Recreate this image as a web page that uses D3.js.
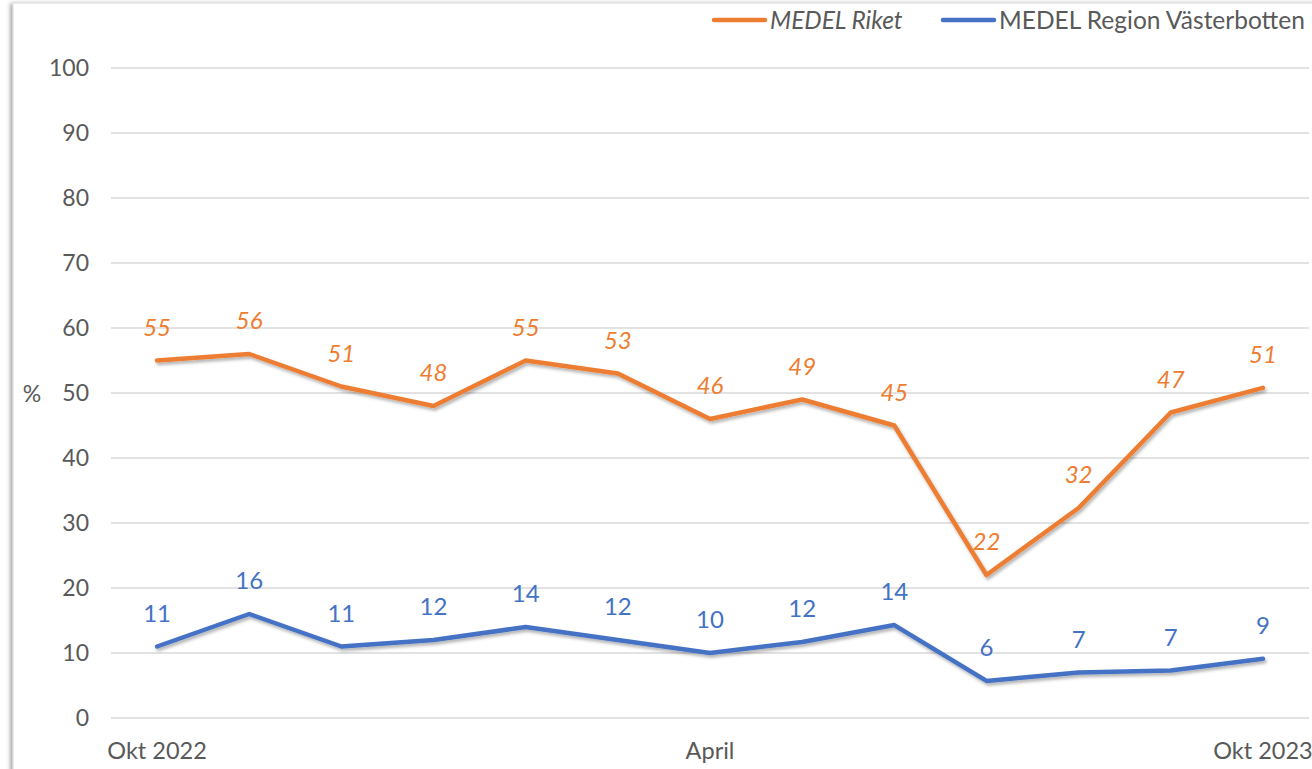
<!DOCTYPE html>
<html>
<head>
<meta charset="utf-8">
<script src="https://cdn.jsdelivr.net/npm/d3@7"></script>
<style>
  body { margin: 0; background: #fff; }
  text { font-family: Lato, "Open Sans", sans-serif; }
</style>
</head>
<body>
<svg id="svg" width="1312" height="769"></svg>
<script>
// data
const months = ["Okt 2022", "Nov", "Dec", "Jan", "Feb", "Mars", "April", "Maj", "Juni", "Juli", "Aug", "Sep", "Okt 2023"];
const shownTicks = ["Okt 2022", "April", "Okt 2023"];
const riket = [55, 56, 51, 48, 55, 53, 46, 49, 45, 22, 32.3, 47, 50.8];
const vasterbotten = [11, 16, 11, 12, 14, 12, 10, 11.7, 14.3, 5.7, 7, 7.3, 9.1];
const yTicks = [0, 10, 20, 30, 40, 50, 60, 70, 80, 90, 100];

const series = [
  { name: "MEDEL Riket", values: riket, color: "#ED7D31", italic: true },
  { name: "MEDEL Region Västerbotten", values: vasterbotten, color: "#4472C4", italic: false }
];

const svg = d3.select("#svg");

// skugga
const defs = svg.append("defs");
const shadow = defs.append("filter").attr("id", "shadow")
  .attr("x", "-10%").attr("y", "-10%").attr("width", "120%").attr("height", "130%");
shadow.append("feDropShadow")
  .attr("dx", 1.5).attr("dy", 2.5).attr("stdDeviation", 1.8)
  .attr("flood-color", "#000").attr("flood-opacity", 0.3);

const frameShadow = defs.append("filter").attr("id", "frameShadow")
  .attr("x", "-5%").attr("y", "-5%").attr("width", "110%").attr("height", "110%");
frameShadow.append("feDropShadow")
  .attr("dx", -2).attr("dy", 1).attr("stdDeviation", 2)
  .attr("flood-color", "#000").attr("flood-opacity", 0.4);

// ram runt diagrammet
svg.append("rect")
  .attr("x", 13).attr("y", 3)
  .attr("width", 1400).attr("height", 900)
  .attr("fill", "#fff")
  .attr("stroke", "#d9d9d9")
  .attr("stroke-width", 1)
  .attr("filter", "url(#frameShadow)");

const x = d3.scaleBand().domain(months).range([111, 1309]);
const y = d3.scaleLinear().domain([0, 100]).range([718, 68]);

// rutnät
svg.append("g")
  .selectAll("line")
  .data(yTicks)
  .join("line")
  .attr("x1", 111).attr("x2", 1309)
  .attr("y1", d => y(d)).attr("y2", d => y(d))
  .attr("stroke", "#d9d9d9")
  .attr("stroke-width", 1.3);

// y-axel
const yAxis = svg.append("g")
  .attr("transform", "translate(111,0)")
  .call(d3.axisLeft(y).tickValues(yTicks).tickSize(0).tickPadding(22));
yAxis.select(".domain").remove();
yAxis.selectAll("text")
  .attr("fill", "#595959")
  .style("font-size", "23px")
  .style("font-family", "Lato, 'Open Sans', sans-serif");

// x-axel
const xAxis = svg.append("g")
  .attr("transform", "translate(0,718)")
  .call(d3.axisBottom(x).tickValues(shownTicks).tickSize(0).tickPadding(24));
xAxis.select(".domain").remove();
xAxis.selectAll("text")
  .attr("fill", "#595959")
  .style("font-size", "23.5px")
  .style("font-family", "Lato, 'Open Sans', sans-serif");

svg.append("text")
  .attr("x", 32).attr("y", y(50) + 9)
  .attr("text-anchor", "middle")
  .attr("fill", "#595959")
  .style("font-size", "23px")
  .text("%");

// linjer
const line = d3.line()
  .x((d, i) => x(months[i]) + x.bandwidth() / 2)
  .y(d => y(d));

series.forEach(s => {
  svg.append("path")
    .datum(s.values)
    .attr("d", line)
    .attr("fill", "none")
    .attr("stroke", s.color)
    .attr("stroke-width", 4.5)
    .attr("stroke-linecap", "round")
    .attr("stroke-linejoin", "round")
    .attr("filter", "url(#shadow)");

  svg.append("g")
    .selectAll("text")
    .data(s.values)
    .join("text")
    .attr("x", (d, i) => x(months[i]) + x.bandwidth() / 2)
    .attr("y", d => y(d) - 25)
    .attr("text-anchor", "middle")
    .attr("fill", s.color)
    .style("font-size", "24px")
    .style("font-style", s.italic ? "italic" : "normal")
    .text(d => Math.round(d));
});

// legend
const legendItems = [
  { s: series[0], x: 714 },
  { s: series[1], x: 943 }
];
legendItems.forEach(l => {
  svg.append("line")
    .attr("x1", l.x).attr("x2", l.x + 51)
    .attr("y1", 20).attr("y2", 20)
    .attr("stroke", l.s.color)
    .attr("stroke-width", 4.5)
    .attr("stroke-linecap", "round");
  svg.append("text")
    .attr("x", l.x + 56).attr("y", 29)
    .attr("fill", "#595959")
    .style("font-size", "24.5px")
    .style("font-style", l.s.italic ? "italic" : "normal")
    .text(l.s.name);
});
</script>
</body>
</html>
